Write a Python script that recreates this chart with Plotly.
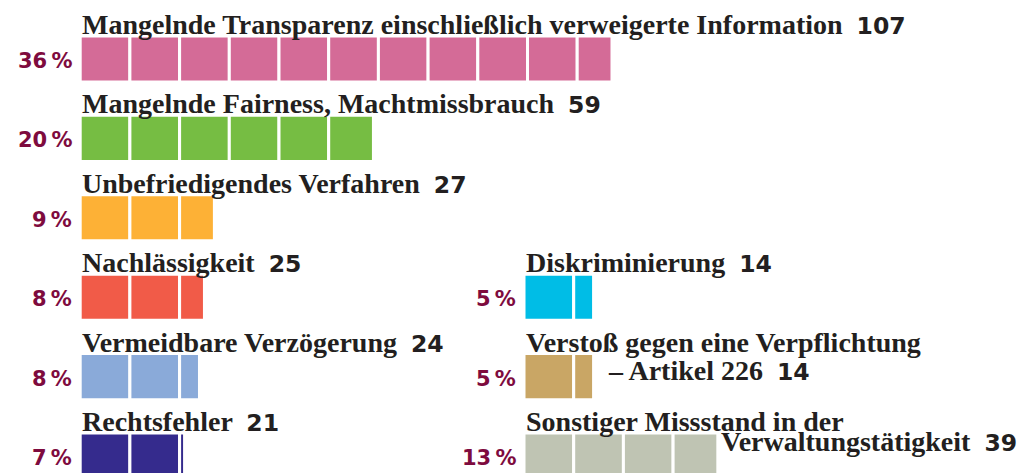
import plotly.graph_objects as go

# left column, top to bottom
left_labels = ["Mangelnde Transparenz einschließlich verweigerte Information",
               "Mangelnde Fairness, Machtmissbrauch",
               "Unbefriedigendes Verfahren",
               "Nachlässigkeit",
               "Vermeidbare Verzögerung",
               "Rechtsfehler"]
left_counts = [107, 59, 27, 25, 24, 21]
left_shares = [36, 20, 9, 8, 8, 7]
left_colors = ['#d46b97', '#76bd43', '#fdb136', '#f15b48', '#8aaad9', '#352b8d']

# right column, sits next to the last three rows
right_titles = ["Diskriminierung", "Verstoß gegen eine Verpflichtung", "Sonstiger Missstand in der"]
right_tails = ["", "– Artikel 226", "Verwaltungstätigkeit"]
right_counts = [14, 14, 39]
right_shares = [5, 5, 13]
right_colors = ['#00bde6', '#c9a665', '#bfc4b3']
right_rows = [3, 4, 5]

SEG = 10            # one block = 10 complaints
PX_PER_UNIT = 4.97
ROW_PX = 79.4
PAGE = 8            # body margin of the html page
W, H = 1030 - PAGE, 473 - PAGE

TXT = '#231f20'
PCT = '#7e0b3e'
SERIF = 'Liberation Serif'
SANS = 'DejaVu Sans'


def blocks(n):
    parts = [SEG] * (n // SEG)
    if n % SEG:
        parts.append(n % SEG)
    return parts, [SEG * i for i in range(len(parts))]


def number(n):
    return f"<span style='font-family:{SANS};font-weight:bold;font-size:23.5px'>{n}</span>"


title_font = dict(family=SERIF, size=28, color=TXT, weight='bold')
pct_font = dict(family=SANS, size=21, color=PCT, weight='bold')

fig = go.Figure()
ann = []

for i, (lab, n, p, c) in enumerate(zip(left_labels, left_counts, left_shares, left_colors)):
    parts, bases = blocks(n)
    fig.add_bar(x=parts, base=bases, y=[i] * len(parts), orientation='h',
                marker=dict(color=c, line=dict(color='white', width=3)),
                width=0.58, xaxis='x', yaxis='y', name=lab, showlegend=False)
    ann.append(dict(x=0, y=i, xref='x', yref='y', xanchor='left', yanchor='bottom',
                    yshift=17, text=f"{lab}  {number(n)}", showarrow=False, font=title_font))
    ann.append(dict(x=0, y=i, xref='x', yref='y', xanchor='right', yanchor='middle',
                    xshift=-6, yshift=-2, text=f"{p}\u2009%", showarrow=False, font=pct_font))

tail_shift = [0, 12, 1]
tail_yshift = [0, -11, -3]
for k, (t, tail, n, p, c, r) in enumerate(zip(right_titles, right_tails, right_counts,
                                              right_shares, right_colors, right_rows)):
    parts, bases = blocks(n)
    fig.add_bar(x=parts, base=bases, y=[r] * len(parts), orientation='h',
                marker=dict(color=c, line=dict(color='white', width=3)),
                width=0.58, xaxis='x2', yaxis='y', name=t, showlegend=False)
    head = f"{t}  {number(n)}" if not tail else t
    ann.append(dict(x=0, y=r, xref='x2', yref='y', xanchor='left', yanchor='bottom',
                    yshift=17, text=head, showarrow=False, font=title_font))
    if tail:
        ann.append(dict(x=n, y=r, xref='x2', yref='y', xanchor='left', yanchor='bottom',
                        xshift=tail_shift[k], yshift=tail_yshift[k],
                        text=f"{tail}  {number(n)}", showarrow=False, font=title_font))
    ann.append(dict(x=0, y=r, xref='x2', yref='y', xanchor='right', yanchor='middle',
                    xshift=-6, yshift=-2, text=f"{p}\u2009%", showarrow=False, font=pct_font))

# both columns share one scale; zero of the left blocks at page px 80, right at 524
x1_zero, x2_zero, row0 = 80.2 - PAGE, 524 - PAGE, 59 - PAGE
fig.update_layout(
    width=W, height=H, margin=dict(l=0, r=0, t=0, b=0),
    paper_bgcolor='white', plot_bgcolor='white',
    barmode='overlay', showlegend=False,
    xaxis=dict(domain=[0, 1], range=[-x1_zero / PX_PER_UNIT, (W - x1_zero) / PX_PER_UNIT],
               visible=False, anchor='y'),
    xaxis2=dict(domain=[0, 1], range=[-x2_zero / PX_PER_UNIT, (W - x2_zero) / PX_PER_UNIT],
                visible=False, anchor='y', overlaying='x'),
    yaxis=dict(range=[(H - row0) / ROW_PX, -row0 / ROW_PX], visible=False, anchor='x'),
    annotations=ann,
)

fig.write_html("out.html")
